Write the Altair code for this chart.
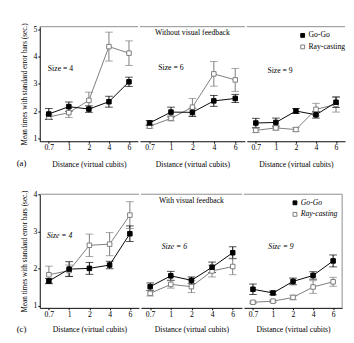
import altair as alt
import pandas as pd

FONT = "Liberation Serif"
FS = 8

distances = ["0.7", "1", "2", "4", "6"]
sizes = [4, 6, 9]
techniques = ["Go-Go", "Ray-casting"]

# Without visual feedback (a)
nofb_gogo_s4 = [1.90, 2.17, 2.08, 2.35, 3.08]
nofb_gogo_s4_err = [0.20, 0.17, 0.12, 0.20, 0.17]
nofb_ray_s4 = [1.79, 1.95, 2.40, 4.37, 4.13]
nofb_ray_s4_err = [0.08, 0.18, 0.30, 0.53, 0.45]
nofb_gogo_s6 = [1.57, 1.97, 1.96, 2.38, 2.47]
nofb_gogo_s6_err = [0.09, 0.18, 0.15, 0.20, 0.15]
nofb_ray_s6 = [1.45, 1.74, 2.15, 3.37, 3.15]
nofb_ray_s6_err = [0.07, 0.09, 0.32, 0.45, 0.42]
nofb_gogo_s9 = [1.57, 1.59, 2.01, 1.87, 2.33]
nofb_gogo_s9_err = [0.17, 0.16, 0.09, 0.12, 0.19]
nofb_ray_s9 = [1.30, 1.39, 1.33, 2.07, 2.25]
nofb_ray_s9_err = [0.08, 0.08, 0.07, 0.22, 0.28]

# With visual feedback (c)
fb_gogo_s4 = [1.67, 1.99, 2.01, 2.10, 2.94]
fb_gogo_s4_err = [0.07, 0.20, 0.16, 0.10, 0.21]
fb_ray_s4 = [1.84, 1.95, 2.63, 2.66, 3.44]
fb_ray_s4_err = [0.23, 0.15, 0.30, 0.31, 0.36]
fb_gogo_s6 = [1.52, 1.81, 1.69, 2.04, 2.43]
fb_gogo_s6_err = [0.10, 0.12, 0.09, 0.14, 0.16]
fb_ray_s6 = [1.34, 1.58, 1.52, 1.94, 2.06]
fb_ray_s6_err = [0.07, 0.10, 0.16, 0.16, 0.22]
fb_gogo_s9 = [1.45, 1.35, 1.66, 1.82, 2.21]
fb_gogo_s9_err = [0.14, 0.05, 0.09, 0.10, 0.16]
fb_ray_s9 = [1.10, 1.13, 1.23, 1.51, 1.65]
fb_ray_s9_err = [0.03, 0.03, 0.06, 0.17, 0.12]

series = {
    ("nofb", 4): [(nofb_ray_s4, nofb_ray_s4_err), (nofb_gogo_s4, nofb_gogo_s4_err)],
    ("nofb", 6): [(nofb_ray_s6, nofb_ray_s6_err), (nofb_gogo_s6, nofb_gogo_s6_err)],
    ("nofb", 9): [(nofb_ray_s9, nofb_ray_s9_err), (nofb_gogo_s9, nofb_gogo_s9_err)],
    ("fb", 4): [(fb_ray_s4, fb_ray_s4_err), (fb_gogo_s4, fb_gogo_s4_err)],
    ("fb", 6): [(fb_ray_s6, fb_ray_s6_err), (fb_gogo_s6, fb_gogo_s6_err)],
    ("fb", 9): [(fb_ray_s9, fb_ray_s9_err), (fb_gogo_s9, fb_gogo_s9_err)],
}

rows = []
for (fbk, size), pairs in series.items():
    for tech, (means, errs) in zip(["Ray-casting", "Go-Go"], pairs):
        for d, m, e in zip(distances, means, errs):
            rows.append(dict(fb=fbk, sz=int(size), tech=tech, dist=d, mean=float(m),
                             lo=round(m - e, 3), hi=round(m + e, 3)))
df = pd.DataFrame(rows)

color_scale = alt.Scale(domain=techniques, range=["#000000", "#7a7a7a"])
fill_scale = alt.Scale(domain=techniques, range=["#000000", "#ffffff"])

ytitle = "Mean times with standard error bars (sec.)"
XTITLE = "Distance (virtual cubits)"


def panel(fbk, size, idx, width, height, ydom, yvals, size_y, size_dx, italic,
          title_text, title_y, legend_ys, legend_x, right_border, label_y, tpad):
    sub = df[(df.fb == fbk) & (df.sz == size)].reset_index(drop=True)
    base = alt.Chart(sub)
    xaxis = alt.Axis(title=XTITLE, labelAngle=0,
                     labelFont=FONT, labelFontSize=FS, titleFont=FONT,
                     titleFontSize=FS, titleFontWeight="normal",
                     tickSize=2, labelPadding=1, titlePadding=tpad,
                     domainColor="#000", tickColor="#000",
                     labelColor="#000", titleColor="#000", grid=False)
    xscale = alt.Scale(type="point", padding=0.45, domain=distances)

    def X():
        return alt.X("dist:O", scale=xscale, axis=xaxis)

    if idx == 0:
        yaxis = alt.Axis(title=ytitle, values=yvals, format="d", tickSize=2,
                         labelPadding=1, labelFont=FONT, labelFontSize=FS,
                         titleFont=FONT, titleFontSize=7.5, titleFontWeight="normal",
                         titlePadding=5, domainColor="#000", tickColor="#000",
                         labelColor="#000", titleColor="#000", grid=False)
    else:
        yaxis = None
    yscale = alt.Scale(domain=ydom, nice=False, zero=False)

    def Y(field):
        return alt.Y(field, scale=yscale, axis=yaxis)

    color = alt.Color("tech:N", scale=color_scale, legend=None)

    lines = base.mark_line(strokeWidth=1).encode(x=X(), y=Y("mean:Q"), color=color)
    bars = base.mark_rule(strokeWidth=1).encode(x=X(), y=Y("lo:Q"), y2="hi:Q", color=color)
    cap_lo = base.mark_tick(size=8, thickness=1).encode(x=X(), y=Y("lo:Q"), color=color)
    cap_hi = base.mark_tick(size=8, thickness=1).encode(x=X(), y=Y("hi:Q"), color=color)
    pts = base.mark_square(size=22, filled=True, strokeWidth=1, opacity=1).encode(
        x=X(), y=Y("mean:Q"),
        fill=alt.Fill("tech:N", scale=fill_scale, legend=None),
        stroke=alt.Stroke("tech:N", scale=color_scale, legend=None))

    # frame line along the top of the panel (spans the full width)
    top = alt.Chart(pd.DataFrame({"v": [ydom[1]]})).mark_rule(
        color="#8a8a8a", strokeWidth=1).encode(y=Y("v:Q"))

    size_df = pd.DataFrame({"dist": ["0.7"], "v": [size_y], "t": [f"Size = {size}"]})
    size_txt = alt.Chart(size_df).mark_text(
        align="left", baseline="middle", dx=size_dx, font=FONT, fontSize=FS,
        fontStyle="italic" if italic else "normal", color="#000").encode(
        x=X(), y=Y("v:Q"), text="t:N")

    layers = [top, bars, cap_lo, cap_hi, lines, pts, size_txt]

    if title_text:
        tdf = pd.DataFrame({"dist": ["2"], "v": [title_y], "t": [title_text]})
        layers.append(alt.Chart(tdf).mark_text(
            align="center", baseline="middle", font=FONT, fontSize=FS,
            color="#000").encode(x=X(), y=Y("v:Q"), text="t:N"))

    if legend_ys:
        ldf = pd.DataFrame({"tech": techniques, "v": legend_ys})
        layers.append(alt.Chart(ldf).mark_square(
            size=16, filled=True, strokeWidth=1, opacity=1).encode(
            x=alt.value(legend_x), y=Y("v:Q"),
            fill=alt.Fill("tech:N", scale=fill_scale, legend=None),
            stroke=alt.Stroke("tech:N", scale=color_scale, legend=None)))
        layers.append(alt.Chart(ldf).mark_text(
            align="left", baseline="middle", font=FONT, fontSize=FS,
            fontStyle="italic" if italic else "normal", color="#000").encode(
            x=alt.value(legend_x + 6), y=Y("v:Q"), text="tech:N"))

    if right_border:
        bdf = pd.DataFrame({"v": [ydom[0]], "v2": [ydom[1]]})
        layers.append(alt.Chart(bdf).mark_rule(
            color="#8a8a8a", strokeWidth=1).encode(
            x=alt.value(width), y=Y("v:Q"), y2="v2:Q"))

    if idx == 0:
        lab = "(a)" if fbk == "nofb" else "(c)"
        ldf2 = pd.DataFrame({"t": [lab], "v": [label_y]})
        layers.append(alt.Chart(ldf2).mark_text(
            align="center", baseline="middle", font=FONT, fontSize=9,
            color="#000").encode(x=alt.value(-19), y=Y("v:Q"), text="t:N"))

    return alt.layer(*layers).properties(
        width=width, height=height,
        view=alt.ViewConfig(stroke="transparent", strokeWidth=0, strokeOpacity=0))


top_widths = [102, 109, 102]
bot_widths = [103, 105, 102]

top_row = alt.hconcat(
    panel("nofb", 4, 0, top_widths[0], 119, [0.9, 5.1], [1, 2, 3, 4, 5], 3.54, -1, False,
          None, None, None, None, False, 0.09, 9),
    panel("nofb", 6, 1, top_widths[1], 119, [0.9, 5.1], None, 3.58, 9, False,
          "Without visual feedback", 4.85, None, None, False, None, 9),
    panel("nofb", 9, 2, top_widths[2], 119, [0.9, 5.1], None, 3.47, 12, False,
          None, None, [4.78, 4.36], 58, False, None, 9),
    spacing=0,
)

bot_row = alt.hconcat(
    panel("fb", 4, 0, bot_widths[0], 118, [0.95, 4.0], [1, 2, 3, 4], 2.87, -2, True,
          None, None, None, None, False, 0.38, 8),
    panel("fb", 6, 1, bot_widths[1], 118, [0.95, 4.0], None, 2.58, 12, True,
          "With visual feedback", 3.83, None, None, False, None, 8),
    panel("fb", 9, 2, bot_widths[2], 118, [0.95, 4.0], None, 2.58, 16, True,
          None, None, [3.77, 3.46], 53, True, None, 8),
    spacing=0,
)

chart = alt.vconcat(top_row, bot_row, spacing=22).properties(
    padding={"left": 9, "top": 9, "right": 0, "bottom": 0},
    background="#ffffff",
).configure_view(stroke="transparent", strokeWidth=0).configure_axis(
    labelFont=FONT, titleFont=FONT, labelFontSize=FS, titleFontSize=FS,
    titleFontWeight="normal", labelColor="#000", titleColor="#000",
).configure_text(font=FONT)

chart.save("out.html", embed_options={"renderer": "svg", "actions": False})
